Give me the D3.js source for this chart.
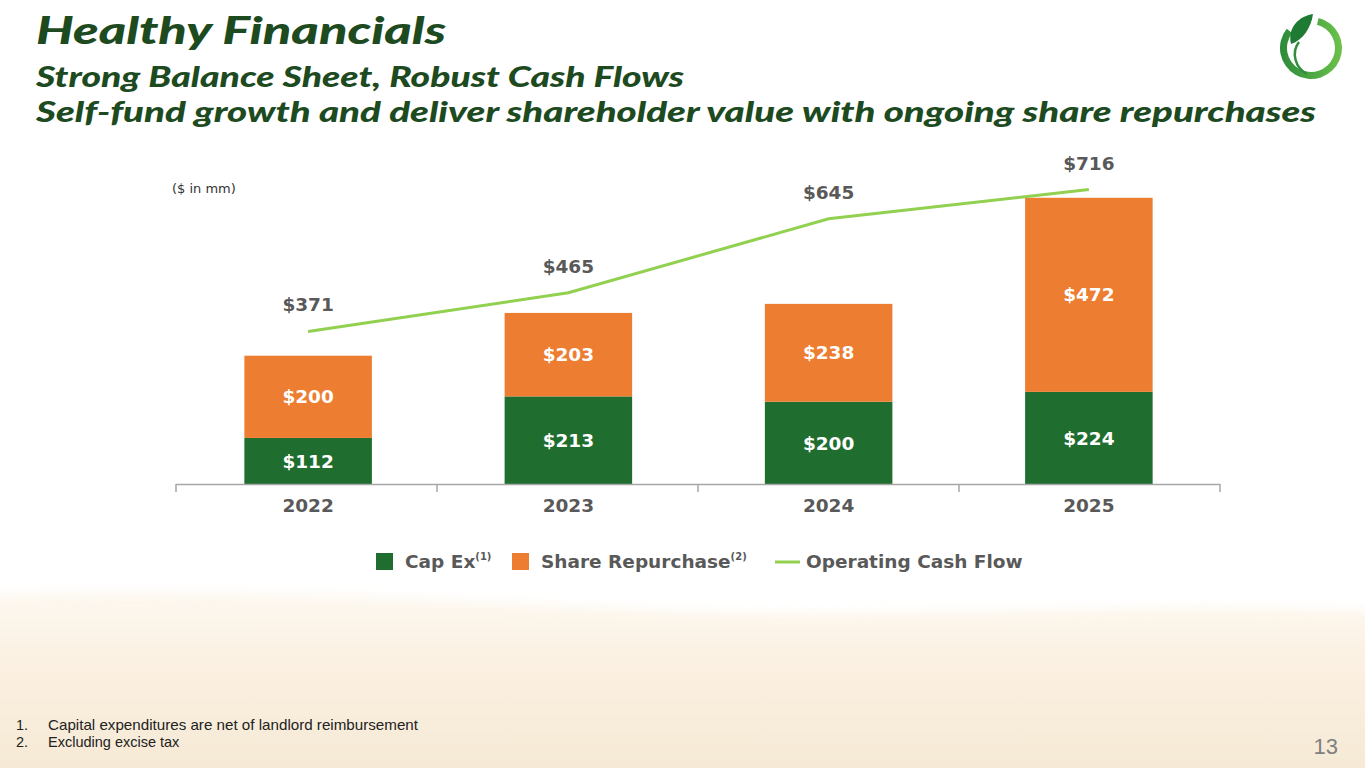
<!DOCTYPE html>
<html>
<head>
<meta charset="utf-8">
<script src="https://cdn.jsdelivr.net/npm/d3@7"></script>
<style>
  html, body { margin: 0; padding: 0; background: #fff; }
  svg { display: block; }
</style>
</head>
<body>
<svg width="1365" height="768"></svg>
<script>
// chart values
const years = ["2022", "2023", "2024", "2025"];
const capEx = [112, 213, 200, 224];
const shareRepurchase = [200, 203, 238, 472];
const operatingCashFlow = [371, 465, 645, 716];
const legendLabels = ["Cap Ex", "Share Repurchase", "Operating Cash Flow"];
const legendNotes = ["(1)", "(2)", ""];
const footnotes = ["Capital expenditures are net of landlord reimbursement", "Excluding excise tax"];

const width = 1365, height = 768;
const green = "#1f6e30", orange = "#ed7d31", lineGreen = "#92d050", grey = "#595959";
const labelFont = "'DejaVu Sans', Verdana, sans-serif";

const svg = d3.select("svg");

// background: white top, sandy bottom
const defs = svg.append("defs");
const sand = defs.append("linearGradient").attr("id", "sand")
    .attr("x1", 0).attr("y1", 0).attr("x2", 0).attr("y2", 1);
sand.append("stop").attr("offset", "0%").attr("stop-color", "#fdf8f0");
sand.append("stop").attr("offset", "35%").attr("stop-color", "#fbf1e2");
sand.append("stop").attr("offset", "100%").attr("stop-color", "#f5e8d3");
defs.append("filter").attr("id", "soft").attr("x", "-5%").attr("y", "-20%").attr("width", "110%").attr("height", "140%")
  .append("feGaussianBlur").attr("stdDeviation", 6);
const ring = defs.append("linearGradient").attr("id", "ring")
    .attr("x1", 0).attr("y1", 0).attr("x2", 1).attr("y2", 0);
ring.append("stop").attr("offset", "0%").attr("stop-color", "#2b8a3a");
ring.append("stop").attr("offset", "100%").attr("stop-color", "#6cc24a");

svg.append("rect").attr("width", width).attr("height", height).attr("fill", "#fff");
svg.append("path")
    .attr("d", "M-20,595 C200,585 420,600 700,612 C900,620 1150,600 1390,612 L1390,790 L-20,790 Z")
    .attr("fill", "url(#sand)")
    .attr("filter", "url(#soft)");

// titles
const titles = svg.append("g")
    .attr("fill", "#1d4a1f")
    .attr("font-family", "Lato, sans-serif")
    .attr("font-style", "italic")
    .attr("font-weight", 900);
titles.append("text").attr("x", 36).attr("y", 44).attr("font-size", 38)
    .attr("textLength", 410).attr("lengthAdjust", "spacingAndGlyphs")
    .text("Healthy Financials");
titles.append("text").attr("x", 36).attr("y", 87).attr("font-size", 28)
    .attr("textLength", 648).attr("lengthAdjust", "spacingAndGlyphs")
    .text("Strong Balance Sheet, Robust Cash Flows");
titles.append("text").attr("x", 36).attr("y", 122).attr("font-size", 28)
    .attr("textLength", 1280).attr("lengthAdjust", "spacingAndGlyphs")
    .text("Self-fund growth and deliver shareholder value with ongoing share repurchases");

// logo (ring with leaf)
const logo = svg.append("g").attr("transform", "translate(1311,48)");
const arc = d3.arc().innerRadius(24).outerRadius(31);
logo.append("path")
    .attr("d", arc({startAngle: 0.25, endAngle: 2 * Math.PI - 0.9}))
    .attr("fill", "url(#ring)");
logo.append("path")
    .attr("d", "M-20,-4 C-24,-20 -12,-32 2,-34 C0,-20 -8,-8 -20,-4 Z")
    .attr("fill", "#1f7a34");
logo.append("path")
    .attr("d", "M-12,-6 C-20,4 -16,20 -4,26")
    .attr("fill", "none").attr("stroke", "#2f8f3c").attr("stroke-width", 2.5);

// scales
const x = d3.scaleBand().domain(years).range([178, 1219]).paddingInner(0.51).paddingOuter(0.255);
const y = d3.scaleLinear().domain([0, 800]).range([484, 155]);
const axisStart = 176, axisEnd = 1220;

const rows = years.map((yr, i) => ({year: yr, capEx: capEx[i], share: shareRepurchase[i], ocf: operatingCashFlow[i]}));
const stacked = d3.stack().keys(["capEx", "share"])(rows);
const colors = {capEx: green, share: orange};

svg.append("text").attr("x", 172).attr("y", 193)
    .attr("font-family", labelFont).attr("font-size", 13).attr("fill", "#333")
    .text("($ in mm)");

// bars
const layers = svg.append("g").selectAll("g")
  .data(stacked)
  .join("g")
    .attr("fill", d => colors[d.key]);

layers.selectAll("rect")
  .data(d => d)
  .join("rect")
    .attr("x", d => x(d.data.year))
    .attr("y", d => y(d[1]))
    .attr("width", x.bandwidth())
    .attr("height", d => y(d[0]) - y(d[1]));

layers.selectAll("text")
  .data(d => d)
  .join("text")
    .attr("x", d => x(d.data.year) + x.bandwidth() / 2)
    .attr("y", d => (y(d[0]) + y(d[1])) / 2)
    .attr("dy", "0.36em")
    .attr("text-anchor", "middle")
    .attr("font-family", labelFont).attr("font-weight", "bold").attr("font-size", 18.5)
    .attr("fill", "#fff")
    .text(d => "$" + (d[1] - d[0]));

// axis: line, ticks at band boundaries, category labels
const axis = svg.append("g").attr("stroke", "#a6a6a6").attr("stroke-width", 1.5);
axis.append("line").attr("x1", axisStart).attr("x2", axisEnd).attr("y1", 484.5).attr("y2", 484.5);
const step = (axisEnd - axisStart) / years.length;
const bounds = d3.range(years.length + 1).map(i => axisStart + i * step);
axis.selectAll("line.tick")
  .data(bounds)
  .join("line")
    .attr("class", "tick")
    .attr("x1", d => d).attr("x2", d => d)
    .attr("y1", 484).attr("y2", 492);

svg.append("g").selectAll("text")
  .data(years)
  .join("text")
    .attr("x", d => x(d) + x.bandwidth() / 2)
    .attr("y", 512)
    .attr("text-anchor", "middle")
    .attr("font-family", labelFont).attr("font-weight", "bold").attr("font-size", 18.5)
    .attr("fill", grey)
    .text(d => d);

// operating cash flow line
const line = d3.line()
    .x(d => x(d.year) + x.bandwidth() / 2)
    .y(d => y(d.ocf));
svg.append("path")
    .datum(rows)
    .attr("fill", "none")
    .attr("stroke", lineGreen)
    .attr("stroke-width", 3)
    .attr("d", line);

svg.append("g").selectAll("text")
  .data(rows)
  .join("text")
    .attr("x", d => x(d.year) + x.bandwidth() / 2)
    .attr("y", d => y(d.ocf) - 20)
    .attr("text-anchor", "middle")
    .attr("font-family", labelFont).attr("font-weight", "bold").attr("font-size", 18.5)
    .attr("fill", grey)
    .text(d => "$" + d.ocf);

// legend
const legendX = [376, 512, 775];
const legend = svg.append("g")
    .attr("font-family", labelFont).attr("font-weight", "bold").attr("font-size", 18.5).attr("fill", grey);
legend.append("rect").attr("x", legendX[0]).attr("y", 553).attr("width", 17).attr("height", 17).attr("fill", green);
legend.append("rect").attr("x", legendX[1]).attr("y", 553).attr("width", 17).attr("height", 17).attr("fill", orange);
legend.append("line").attr("x1", legendX[2]).attr("x2", legendX[2] + 25).attr("y1", 562).attr("y2", 562)
    .attr("stroke", lineGreen).attr("stroke-width", 3);
const textX = [405, 541, 806];
legendLabels.forEach((lab, i) => {
  const t = legend.append("text").attr("x", textX[i]).attr("y", 568).text(lab);
  if (legendNotes[i]) {
    t.append("tspan").attr("font-size", 10).attr("dy", -8).text(legendNotes[i]);
  }
});

// footnotes and page number
const notes = svg.append("g")
    .attr("font-family", "'Liberation Sans', Arial, sans-serif")
    .attr("font-size", 14.5).attr("fill", "#222");
footnotes.forEach((f, i) => {
  notes.append("text").attr("x", 16).attr("y", 730 + i * 17).text((i + 1) + ".");
  const t = notes.append("text").attr("x", 48).attr("y", 730 + i * 17).text(f);
  if (i === 0) t.attr("textLength", 370).attr("lengthAdjust", "spacingAndGlyphs");
});
svg.append("text").attr("x", 1338).attr("y", 754).attr("text-anchor", "end")
    .attr("font-family", "'Liberation Sans', Arial, sans-serif").attr("font-size", 22)
    .attr("fill", "#7f7f7f").text("13");
</script>
</body>
</html>
